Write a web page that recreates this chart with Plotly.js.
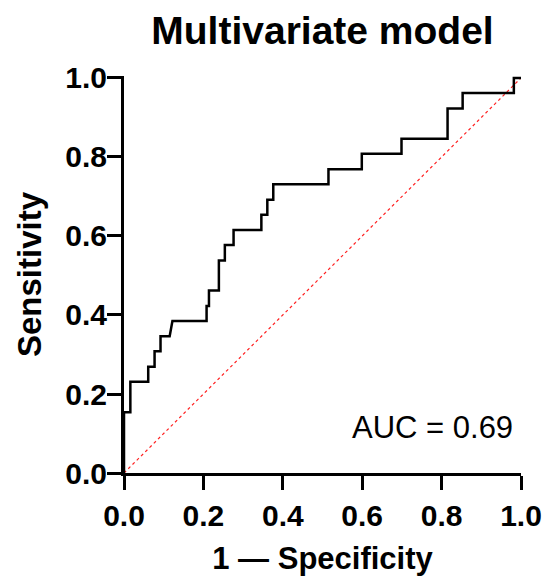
<!DOCTYPE html>
<html>
<head>
<meta charset="utf-8">
<script src="https://cdn.plot.ly/plotly-3.0.1.min.js"></script>
<style>html,body{margin:0;padding:0;background:#fff;}#chart{width:543px;height:576px;}</style>
</head>
<body>
<div id="chart"></div>
<script>
// ROC curve (1 - specificity, sensitivity)
const fpr = [0, 0, 0.016, 0.016, 0.061, 0.061, 0.077, 0.077, 0.092, 0.092, 0.115, 0.122, 0.208, 0.208, 0.214, 0.214, 0.239, 0.239, 0.254, 0.254, 0.276, 0.276, 0.346, 0.346, 0.361, 0.361, 0.376, 0.376, 0.515, 0.515, 0.599, 0.599, 0.699, 0.699, 0.815, 0.815, 0.853, 0.853, 0.982, 0.982, 1.0];
const tpr = [0, 0.154, 0.154, 0.231, 0.231, 0.269, 0.269, 0.308, 0.308, 0.346, 0.346, 0.385, 0.385, 0.423, 0.423, 0.462, 0.462, 0.538, 0.538, 0.577, 0.577, 0.615, 0.615, 0.654, 0.654, 0.692, 0.692, 0.731, 0.731, 0.769, 0.769, 0.808, 0.808, 0.846, 0.846, 0.923, 0.923, 0.962, 0.962, 1.0, 1.0];
const refX = [0, 1];
const refY = [0, 1];
const tickVals = [0, 0.2, 0.4, 0.6, 0.8, 1.0];
const tickText = ['0.0', '0.2', '0.4', '0.6', '0.8', '1.0'];
const chartTitle = 'Multivariate model';
const xTitle = '1 — Specificity';
const yTitle = 'Sensitivity';
const aucLabel = 'AUC = 0.69';

const F = 'Liberation Sans, Arial, Helvetica, sans-serif';

const traces = [
  {x: refX, y: refY, mode: 'lines', line: {color: '#ff2020', width: 1.2, dash: 'dot'}, hoverinfo: 'skip', showlegend: false},
  {x: fpr, y: tpr, mode: 'lines', line: {color: '#000000', width: 2.5}, showlegend: false}
];

const layout = {
  width: 543, height: 576,
  margin: {l: 124, r: 22, t: 76, b: 103},
  paper_bgcolor: '#ffffff', plot_bgcolor: '#ffffff',
  font: {family: F, color: '#000'},
  title: {text: '<b>' + chartTitle + '</b>', font: {family: F, size: 39, color: '#000'},
          x: 0.5, xref: 'paper', xanchor: 'center', y: 1 - 30.5/576, yref: 'container', yanchor: 'middle'},
  xaxis: {range: [0, 1.0], tickvals: tickVals, ticktext: tickText.map(t => '<b>' + t + '</b>'),
          showgrid: false, zeroline: false, showline: true, linecolor: '#000', linewidth: 3,
          ticks: 'outside', ticklen: 14, tickwidth: 3, tickcolor: '#000',
          tickfont: {family: F, size: 30, color: '#000'},
          title: {text: '<b>' + xTitle + '</b>', font: {family: F, size: 31, color: '#000'}, standoff: 19},
          fixedrange: true},
  yaxis: {range: [0, 1.005], tickvals: tickVals, ticktext: tickText.map(t => '<b>' + t + '</b>'),
          showgrid: false, zeroline: false, showline: true, linecolor: '#000', linewidth: 3,
          ticks: 'outside', ticklen: 14, tickwidth: 3, tickcolor: '#000',
          ticklabelstandoff: -6,
          tickfont: {family: F, size: 30, color: '#000'},
          title: {text: '<b>' + yTitle + '</b>', font: {family: F, size: 33, color: '#000'}, standoff: 14},
          fixedrange: true},
  annotations: [
    {text: aucLabel, xref: 'paper', yref: 'paper', x: 0.985, y: 0.114, xanchor: 'right', yanchor: 'middle',
     showarrow: false, font: {family: F, size: 31, color: '#000'}}
  ]
};

Plotly.newPlot('chart', traces, layout, {staticPlot: true, displayModeBar: false});
</script>
</body>
</html>
